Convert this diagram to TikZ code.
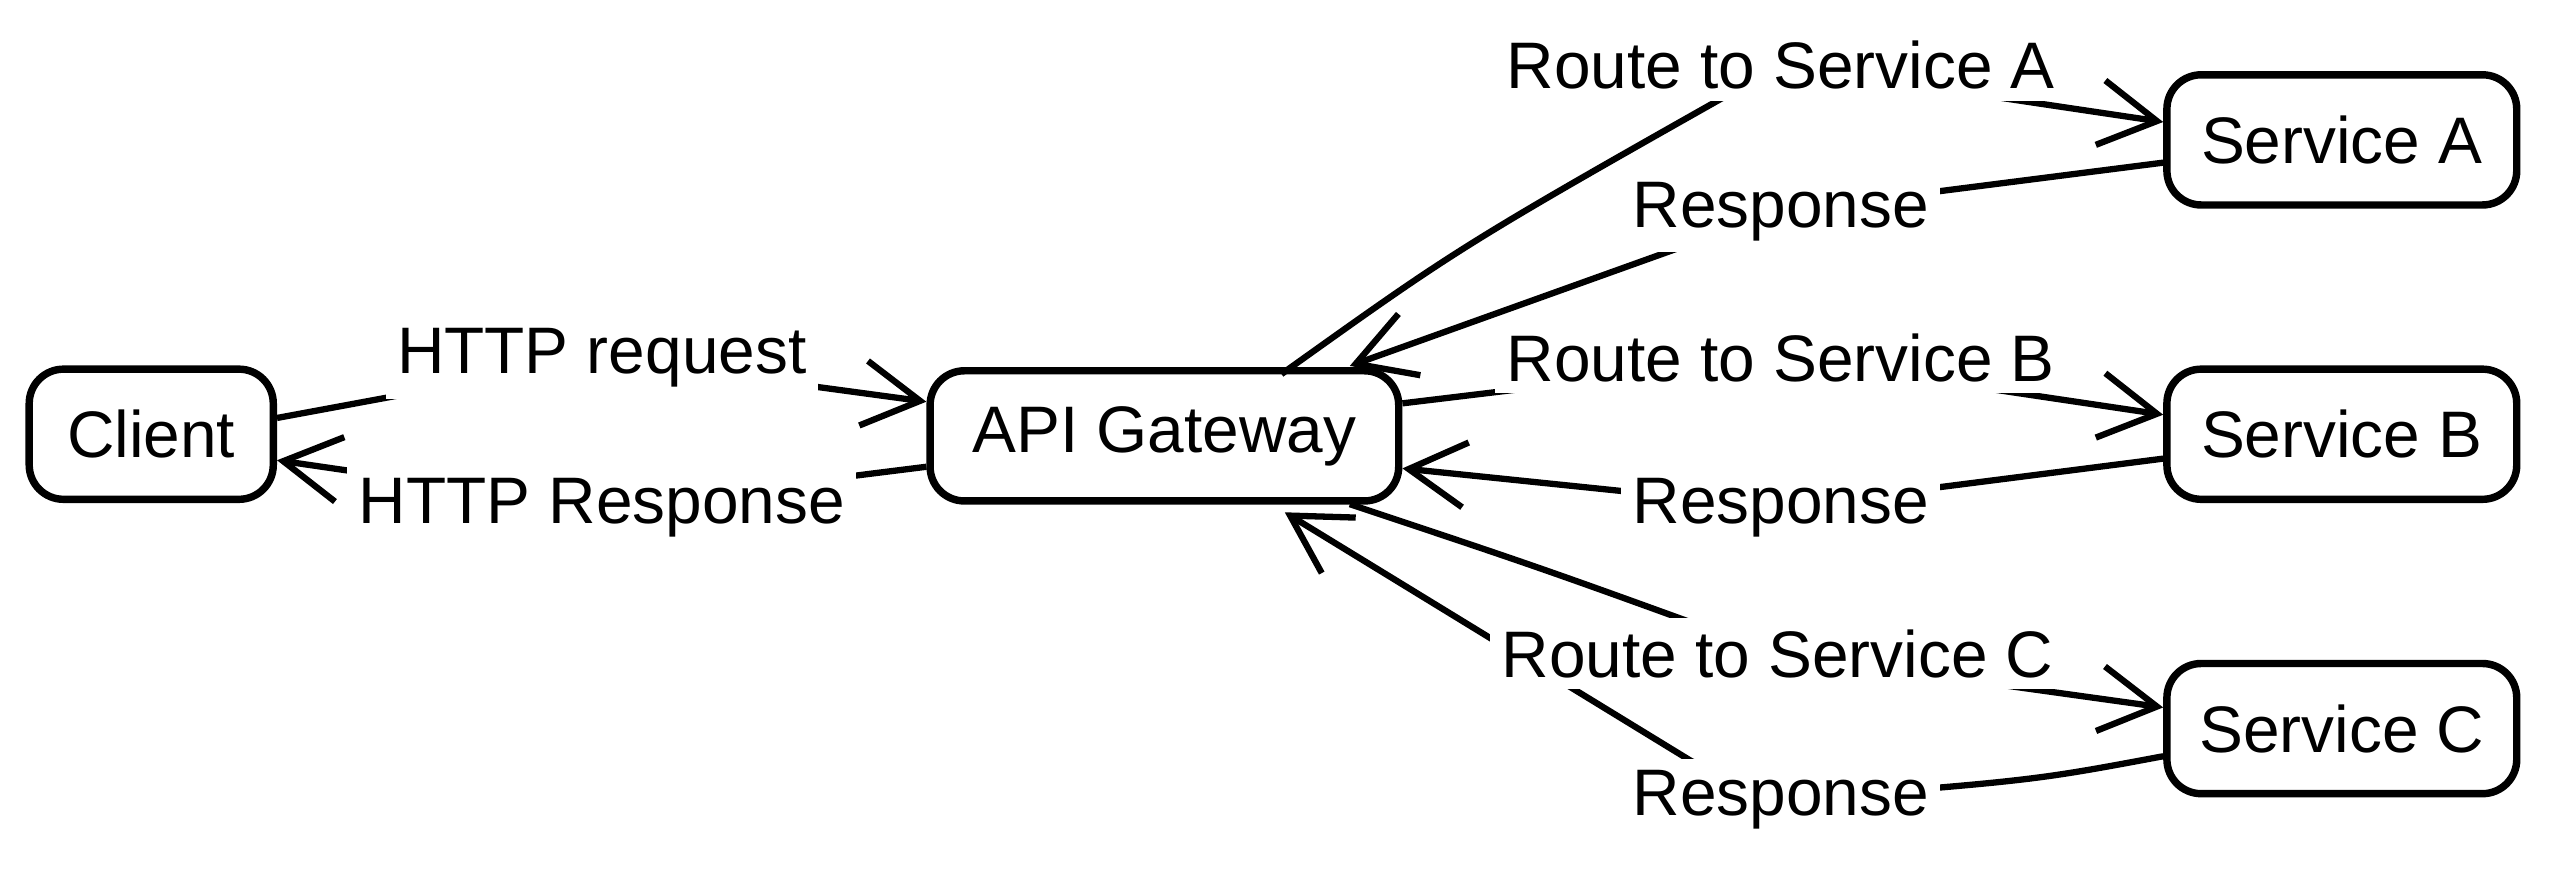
\documentclass[tikz,border=0pt]{standalone}
\usepackage{fontspec}
\setmainfont{Liberation Sans}
\usetikzlibrary{arrows.meta}
\begin{document}
\begin{tikzpicture}[x=0.01cm,y=-0.01cm,
  box/.style={draw,line width=1.3pt,rounded corners=6pt,minimum height=0.8cm,font=\fontsize{11.5}{14}\selectfont},
  lbl/.style={fill=white,inner sep=2pt,font=\fontsize{11.5}{14}\selectfont},
  conn/.style={line width=1.1pt,-{Straight Barb[length=3.5mm,width=4mm]}},
  plain/.style={line width=1.1pt}]
\useasboundingbox (0,0) rectangle (1568,535);
\node[box,minimum width=1.5cm] (client) at (93,267) {Client};
\node[box,minimum width=2.88cm] (api) at (716,268) {API Gateway};
\node[box,minimum width=2.15cm] (sa) at (1440,86) {Service A};
\node[box,minimum width=2.15cm] (sb) at (1440,267) {Service B};
\node[box,minimum width=2.15cm] (sc) at (1440,448) {Service C};
% coordinates
\coordinate (l1) at (370,220);
\coordinate (l2) at (370,312);
\coordinate (la) at (1095,40);
\coordinate (ra) at (1095,130);
\coordinate (lb) at (1095,220);
\coordinate (rb) at (1095,312);
\coordinate (lc) at (1093,402);
\coordinate (rc) at (1095,492);
\coordinate (rcm) at (1040,468);
% edges
\draw[plain] (client.east|-0,257) -- (l1);
\draw[conn] (l1) -- (api.west|-0,247);
\draw[plain] (api.west|-0,287) -- (l2);
\draw[conn] (l2) -- (client.east|-0,283);
\draw[plain] (788,230) .. controls (900,150) .. (la);
\draw[conn] (la) -- (sa.west|-0,75);
\draw[plain] (sa.west|-0,100) -- (ra);
\draw[conn] (ra) -- (830,225);
\draw[plain] (api.east|-0,248) -- (lb);
\draw[conn] (lb) -- (sb.west|-0,255);
\draw[plain] (sb.west|-0,282) -- (rb);
\draw[conn] (rb) -- (api.east|-0,288);
\draw[plain] (830,310) .. controls (950,350) .. (lc);
\draw[conn] (lc) -- (sc.west|-0,435);
\draw[plain] (sc.west|-0,465) .. controls (1250,480) .. (rc);
\draw[plain] (rc) -- (rcm);
\draw[conn] (rcm) -- (790,315);
% labels
\node[lbl] (t1) at (l1) {HTTP request};
\node[lbl] (t2) at (l2) {HTTP Response};
\node[lbl] (ta) at (la) {Route to Service A};
\node[lbl] (tra) at (ra) {Response};
\node[lbl] (tb) at (lb) {Route to Service B};
\node[lbl] (trb) at (rb) {Response};
\node[lbl] (tc) at (lc) {Route to Service C};
\node[lbl] (trc) at (rc) {Response};
\end{tikzpicture}
\end{document}
